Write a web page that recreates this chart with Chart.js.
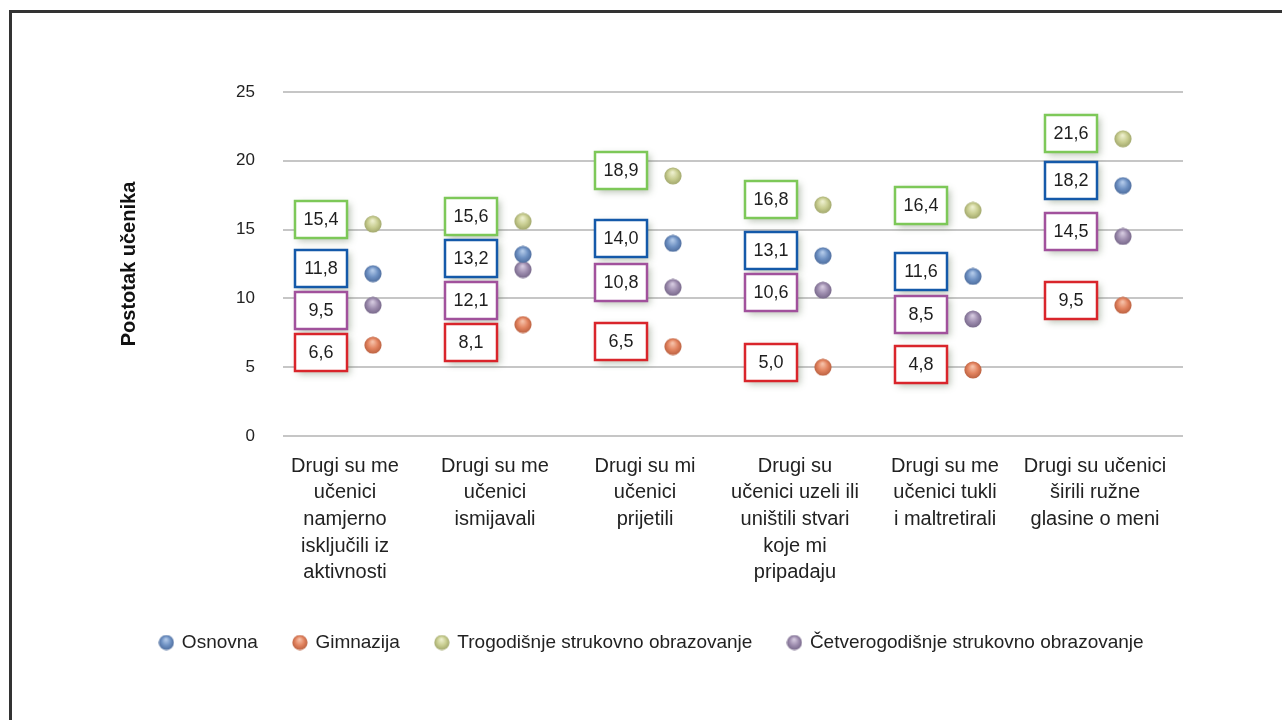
<!DOCTYPE html>
<html><head><meta charset="utf-8">
<script src="https://cdn.jsdelivr.net/npm/chart.js@4.4.1/dist/chart.umd.min.js"></script>
<style>
html,body{margin:0;padding:0;background:#fff;overflow:hidden;width:1282px;height:720px;}
#frame{position:absolute;left:9px;top:10px;width:1400px;height:900px;border-left:3px solid #333;border-top:3px solid #333;}
#wrap{position:absolute;left:0;top:0;width:1282px;height:720px;}
</style></head><body>
<div id="frame"></div>
<div id="wrap"><canvas id="c" width="1282" height="720"></canvas></div>
<script>
const categories = [
  ["Drugi su me", "učenici", "namjerno", "isključili iz", "aktivnosti"],
  ["Drugi su me", "učenici", "ismijavali"],
  ["Drugi su mi", "učenici", "prijetili"],
  ["Drugi su", "učenici uzeli ili", "uništili stvari", "koje mi", "pripadaju"],
  ["Drugi su me", "učenici tukli", "i maltretirali"],
  ["Drugi su učenici", "širili ružne", "glasine o meni"]
];
const seriesNames = ["Osnovna", "Gimnazija", "Trogodišnje strukovno obrazovanje", "Četverogodišnje strukovno obrazovanje"];
const osnovna        = [11.8, 13.2, 14.0, 13.1, 11.6, 18.2];
const gimnazija      = [6.6, 8.1, 6.5, 5.0, 4.8, 9.5];
const trogodisnje    = [15.4, 15.6, 18.9, 16.8, 16.4, 21.6];
const cetverogodisnje = [9.5, 12.1, 10.8, 10.6, 8.5, 14.5];
const yTicks = [0, 5, 10, 15, 20, 25];

const seriesValues = [osnovna, gimnazija, trogodisnje, cetverogodisnje];
const sphereColors = [
  {light: "#b4cbea", base: "#6e91c3", dark: "#4d6c9c"},
  {light: "#f6c2aa", base: "#e2835f", dark: "#b85f3f"},
  {light: "#eef0cf", base: "#c8cd90", dark: "#9fa56a"},
  {light: "#d6cbe0", base: "#9d8cae", dark: "#756688"}
];
const borderColors = ["#1459a9", "#d9252b", "#7dc858", "#a1519c"];

function sphere(c, d) {
  const cv = document.createElement("canvas");
  cv.width = d; cv.height = d;
  const g = cv.getContext("2d");
  const r = d / 2;
  const grad = g.createRadialGradient(r * 0.95, r * 0.6, r * 0.05, r, r, r);
  grad.addColorStop(0, c.light);
  grad.addColorStop(0.55, c.base);
  grad.addColorStop(1, c.dark);
  g.fillStyle = grad;
  g.beginPath(); g.arc(r, r, r - 0.4, 0, Math.PI * 2); g.fill();
  return cv;
}
const pointIcons = sphereColors.map(c => sphere(c, 18));
const legendIcons = sphereColors.map(c => sphere(c, 16));

function fmt(v) { return v.toFixed(1).replace(".", ","); }

const boxLabels = {
  id: "boxLabels",
  afterDatasetsDraw(chart) {
    const ctx = chart.ctx;
    const W = 52, H = 37, GAP = 42;
    for (let i = 0; i < categories.length; i++) {
      const items = [];
      chart.data.datasets.forEach((ds, di) => {
        const el = chart.getDatasetMeta(di).data[i];
        items.push({x: el.x - 52, y: el.y - 5, text: fmt(ds.data[i].y), color: borderColors[di]});
      });
      items.sort((a, b) => a.y - b.y);
      for (let k = 1; k < items.length; k++) {
        if (items[k].y - items[k - 1].y < GAP) items[k].y = items[k - 1].y + GAP;
      }
      items.forEach(b => {
        const l = Math.round(b.x - W / 2), t = Math.round(b.y - H / 2);
        ctx.save();
        ctx.shadowColor = "rgba(95,115,85,0.45)";
        ctx.shadowBlur = 7; ctx.shadowOffsetX = 3; ctx.shadowOffsetY = 3;
        ctx.fillStyle = "#fff";
        ctx.fillRect(l, t, W, H);
        ctx.restore();
        ctx.save();
        ctx.strokeStyle = b.color; ctx.lineWidth = 2.5;
        ctx.strokeRect(l, t, W, H);
        ctx.fillStyle = "#1e1e1e";
        ctx.font = "18px 'Liberation Sans', Arial, sans-serif";
        ctx.textAlign = "center"; ctx.textBaseline = "middle";
        ctx.fillText(b.text, l + W / 2, t + H / 2 + 1);
        ctx.restore();
      });
    }
  }
};

const datasets = seriesNames.map((name, di) => ({
  label: name,
  data: seriesValues[di].map((v, i) => ({x: i, y: v})),
  pointStyle: pointIcons[di],
  backgroundColor: sphereColors[di].base,
  borderColor: sphereColors[di].base,
  showLine: false
}));

new Chart(document.getElementById("c"), {
  type: "scatter",
  data: {datasets},
  plugins: [boxLabels],
  options: {
    responsive: false,
    animation: false,
    devicePixelRatio: 1,
    events: [],
    layout: {padding: {left: 22, right: 0, top: 92, bottom: 58}},
    plugins: {
      tooltip: {enabled: false},
      legend: {
        position: "bottom",
        labels: {
          usePointStyle: true, boxWidth: 12, boxHeight: 12, padding: 36,
          color: "#222", font: {family: "'Liberation Sans', Arial, sans-serif", size: 19},
          generateLabels(chart) {
            const items = Chart.defaults.plugins.legend.labels.generateLabels(chart);
            items.forEach(it => { it.pointStyle = legendIcons[it.datasetIndex]; });
            return items;
          }
        }
      }
    },
    scales: {
      x: {
        type: "linear", min: -0.6, max: 5.4,
        afterBuildTicks(axis) { axis.ticks = categories.map((_, i) => ({value: i})); },
        afterFit(axis) { axis.height = 161; },
        grid: {display: false, drawTicks: false},
        border: {display: false},
        ticks: {
          autoSkip: false, maxRotation: 0, minRotation: 0, labelOffset: -28, padding: 17,
          color: "#222", font: {family: "'Liberation Sans', Arial, sans-serif", size: 20, lineHeight: 1.33},
          callback: (v) => categories[v]
        }
      },
      y: {
        min: 0, max: 25,
        afterBuildTicks(axis) { axis.ticks = yTicks.map(v => ({value: v})); },
        afterFit(axis) { axis.width = 261; },
        grid: {color: "#c6c6c6", lineWidth: 2, drawTicks: false},
        border: {display: false},
        ticks: {padding: 28, color: "#222", font: {family: "'Liberation Sans', Arial, sans-serif", size: 17}},
        title: {display: true, text: "Postotak učenika", color: "#111", padding: {top: 95, bottom: 0},
          font: {family: "'Liberation Sans', Arial, sans-serif", size: 20, weight: "bold"}}
      },
      y2: {
        position: "right", display: true,
        afterFit(axis) { axis.width = 99; },
        grid: {display: false, drawTicks: false}, border: {display: false},
        ticks: {display: false}
      }
    }
  }
});
</script>
</body></html>
